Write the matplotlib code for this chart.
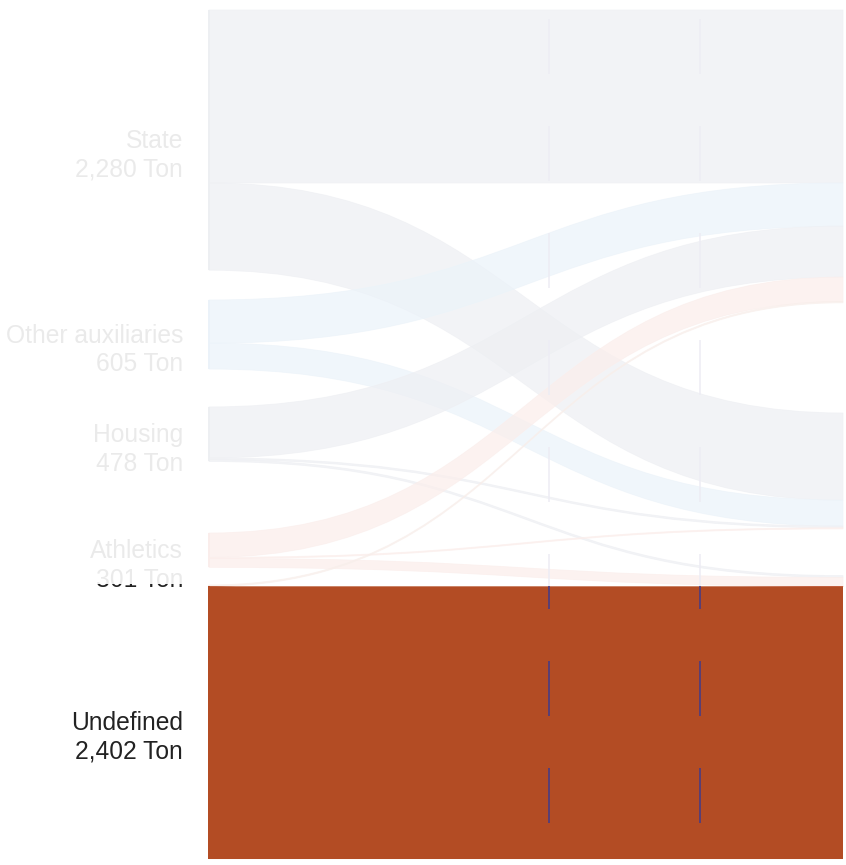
import matplotlib
matplotlib.use("Agg")
import matplotlib.pyplot as plt
from matplotlib.path import Path
from matplotlib.patches import PathPatch, Rectangle
import numpy as np

plt.rcParams['font.family'] = ['Liberation Sans', 'DejaVu Sans']
plt.rcParams['lines.scale_dashes'] = False

# ---- data (tons) ----
sources = ["State", "Other auxiliaries", "Housing", "Athletics", "Undefined"]
source_totals = [2280, 605, 478, 301, 2402]
targets = ["Group A", "Group B", "Undefined"]

# flows: rows = sources, columns = targets
state_flows = [1516, 764, 0]
other_aux_flows = [378, 227, 0]
housing_flows = [447, 15, 16]
athletics_flows = [213, 10, 78]
undefined_flows = [12, 0, 2390]
flows = [state_flows, other_aux_flows, housing_flows, athletics_flows, undefined_flows]

# ---- layout ----
left_pad = [0, 261.6, 332.4, 627, 154]      # space above each source node (tons)
right_pad = [0, 966, 409]                   # space above each target node (tons)
highlight = "Undefined"

DPI = 100
W, H = 846, 865
ky = 0.1141           # pixels per ton
top_px = 10
x0_px, x1_px = 209, 843

link_colors = {
    "State": "#45547e",
    "Other auxiliaries": "#2a7ec6",
    "Housing": "#45547e",
    "Athletics": "#d44529",
    "Undefined": "#b34c24",
}
highlight_color = "#b34c24"

fig = plt.figure(figsize=(W / DPI, H / DPI), dpi=DPI)
ax = fig.add_axes([0, 0, 1, 1])
span = x1_px - x0_px
ax.set_xlim(-x0_px / span, (W - x0_px) / span)
ax.set_ylim((H - top_px) / ky, -top_px / ky)
ax.axis("off")

# node positions
src_top = np.cumsum([p + (source_totals[i - 1] if i > 0 else 0) for i, p in enumerate(left_pad)])
tgt_totals = [sum(f[j] for f in flows) for j in range(len(targets))]
tgt_top = np.cumsum([p + (tgt_totals[j - 1] if j > 0 else 0) for j, p in enumerate(right_pad)])

src_off = list(src_top)
tgt_off = list(tgt_top)


def band(y0a, y0b, y1a, y1b):
    xm = 0.5
    verts = [(0, y0a), (xm, y0a), (xm, y1a), (1, y1a),
             (1, y1b), (xm, y1b), (xm, y0b), (0, y0b), (0, y0a)]
    codes = [Path.MOVETO, Path.CURVE4, Path.CURVE4, Path.CURVE4,
             Path.LINETO, Path.CURVE4, Path.CURVE4, Path.CURVE4, Path.CLOSEPOLY]
    return Path(verts, codes)


highlight_top = None
for i, name in enumerate(sources):
    for j in range(len(targets)):
        v = flows[i][j]
        if v <= 0:
            continue
        y0a, y1a = src_off[i], tgt_off[j]
        y0b, y1b = y0a + v, y1a + v
        src_off[i] += v
        tgt_off[j] += v
        is_hl = name == highlight and targets[j] == highlight
        if is_hl:
            highlight_top = y0a
            patch = PathPatch(band(y0a, y0b, y1a, y1b), facecolor=highlight_color,
                              edgecolor="none", zorder=1)
        else:
            patch = PathPatch(band(y0a, y0b, y1a, y1b), facecolor=link_colors[name],
                              edgecolor=link_colors[name], lw=0.6, alpha=0.7, zorder=1)
        ax.add_patch(patch)

# source node bars
for i, name in enumerate(sources):
    ax.add_patch(Rectangle((-1.5 / span, src_top[i]), 2 / span, source_totals[i],
                           facecolor=highlight_color if name == highlight else link_colors[name],
                           edgecolor="none", zorder=2))

# labels
for i, name in enumerate(sources):
    yc = src_top[i] + source_totals[i] / 2
    for text, dy in ((name, 8), (f"{source_totals[i]:,} Ton", 36.5)):
        ax.annotate(text, xy=(0, yc), xytext=(-26 * 0.72, -dy * 0.72),
                    textcoords="offset points", ha="right", va="baseline",
                    fontsize=17.7, color="#222222", zorder=3)

# vertical guide lines
y_start = (19 - top_px) / ky
y_end = (823 - top_px) / ky
for xg in (0.536, 0.774):
    ax.plot([xg, xg], [y_start, y_end], color="#3f3a8c", lw=1.1,
            linestyle=(0, (55 * 0.72, 52 * 0.72)), solid_capstyle="butt", zorder=3)

# fade everything except the highlighted link
fade_bottom_labels = (583.5 - top_px) / ky
xl = ax.get_xlim()
yl = ax.get_ylim()
ax.add_patch(Rectangle((xl[0], yl[1]), -5 / span - xl[0], fade_bottom_labels - yl[1],
                       facecolor="white", edgecolor="none", alpha=0.91, zorder=5))
ax.add_patch(Rectangle((-5 / span, yl[1]), xl[1] + 5 / span, highlight_top - yl[1],
                       facecolor="white", edgecolor="none", alpha=0.91, zorder=5))

fig.savefig("out.png", dpi=DPI)
